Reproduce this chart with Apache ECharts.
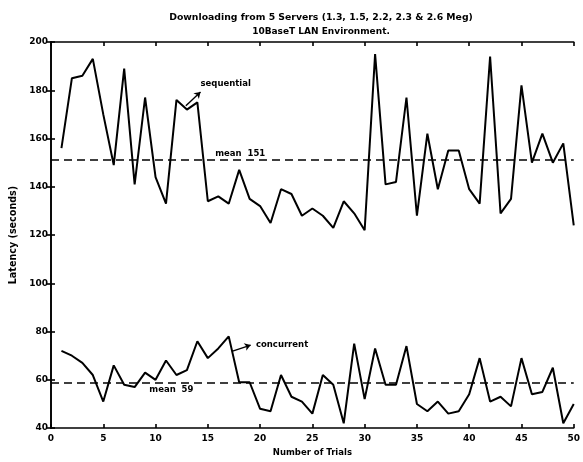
<!DOCTYPE html>
<html>
<head>
<meta charset="utf-8">
<script src="https://cdn.jsdelivr.net/npm/echarts@6/dist/echarts.min.js"></script>
<style>
html,body{margin:0;padding:0;background:#fff;}
#chart{width:583px;height:462px;}
</style>
</head>
<body>
<div id="chart"></div>
<script>
const trials = [1,2,3,4,5,6,7,8,9,10,11,12,13,14,15,16,17,18,19,20,21,22,23,24,25,26,27,28,29,30,31,32,33,34,35,36,37,38,39,40,41,42,43,44,45,46,47,48,49,50];
const sequential = [156,185,186,193,170,149,189,141,177,144,133,176,172,175,134,136,133,147,135,132,125,139,137,128,131,128,123,134,129,122,195,141,142,177,128,162,139,155,155,139,133,194,129,135,182,150,162,150,158,124];
const concurrent = [72,70,67,62,51,66,58,57,63,60,68,62,64,76,69,73,78,59,59,48,47,62,53,51,46,62,58,42,75,52,73,58,58,74,50,47,51,46,47,54,69,51,53,49,69,54,55,65,42,50];
const seqMean = 151;
const conMean = 59;
const xTicks = [0,5,10,15,20,25,30,35,40,45,50];
const yTicks = [40,60,80,100,120,140,160,180,200];

const chart = echarts.init(document.getElementById('chart'));
const font = '"DejaVu Sans", sans-serif';
const axisCommon = {
  type: 'value',
  axisLine: {show: true, lineStyle: {color: '#000', width: 1.6}},
  axisTick: {show: true, inside: true, length: 4, lineStyle: {color: '#000', width: 1.6}},
  splitLine: {show: false}
};
const tickLbl = {color: '#000', fontSize: 9, fontWeight: 'bold', fontFamily: font};
const annLbl = {color: '#000', fontSize: 8.5, fontWeight: 'bold', fontFamily: font};
chart.setOption({
  animation: false,
  backgroundColor: '#fff',
  title: {
    text: 'Downloading from 5 Servers (1.3, 1.5, 2.2, 2.3 & 2.6 Meg)',
    subtext: '10BaseT LAN Environment.',
    left: 316, top: 8, textAlign: 'center', itemGap: 5,
    textStyle: {color: '#000', fontSize: 9.3, fontWeight: 'bold', fontFamily: font},
    subtextStyle: {color: '#000', fontSize: 9, fontWeight: 'bold', fontFamily: font}
  },
  grid: {left: 50, right: 2, top: 42, bottom: 29, containLabel: false},
  xAxis: [
    Object.assign({}, axisCommon, {position: 'bottom', min: 0, max: 50, interval: 5,
      name: 'Number of Trials', nameLocation: 'middle', nameGap: 19,
      nameTextStyle: annLbl,
      axisLabel: Object.assign({margin: 6, formatter: v => xTicks.includes(v) ? String(v) : ''}, tickLbl)}),
    Object.assign({}, axisCommon, {position: 'top', min: 0, max: 50, interval: 5, axisLabel: {show: false}})
  ],
  yAxis: [
    Object.assign({}, axisCommon, {position: 'left', min: 40, max: 200, interval: 20,
      name: 'Latency (seconds)', nameLocation: 'middle', nameGap: 33,
      nameTextStyle: {color: '#000', fontSize: 9.6, fontWeight: 'bold', fontFamily: font},
      axisLabel: Object.assign({margin: 3, formatter: v => yTicks.includes(v) ? String(v) : ''}, tickLbl)}),
    Object.assign({}, axisCommon, {position: 'right', min: 40, max: 200, interval: 20, axisLabel: {show: false}})
  ],
  series: [
    {
      name: 'sequential', type: 'line', symbol: 'none',
      data: trials.map((t, i) => [t, sequential[i]]),
      lineStyle: {color: '#000', width: 2},
      markLine: {
        silent: true, symbol: 'none',
        lineStyle: {color: '#000', width: 1.6, type: [8, 5]},
        label: {show: false},
        data: [{yAxis: seqMean}]
      },
      markPoint: {
        symbol: 'circle', symbolSize: 0,
        label: Object.assign({show: true, position: 'right', distance: 0}, annLbl),
        data: [
          {coord: [14.3, 182.5], label: {formatter: 'sequential'}},
          {coord: [15.7, 153.5], label: {formatter: 'mean  ' + seqMean}}
        ]
      }
    },
    {
      name: 'concurrent', type: 'line', symbol: 'none',
      data: trials.map((t, i) => [t, concurrent[i]]),
      lineStyle: {color: '#000', width: 2},
      markLine: {
        silent: true, symbol: 'none',
        lineStyle: {color: '#000', width: 1.6, type: [8, 5]},
        label: {show: false},
        data: [{yAxis: conMean}]
      },
      markPoint: {
        symbol: 'circle', symbolSize: 0,
        label: Object.assign({show: true, position: 'right', distance: 0}, annLbl),
        data: [
          {coord: [19.6, 74.5], label: {formatter: 'concurrent'}},
          {coord: [9.4, 55.8], label: {formatter: 'mean  ' + conMean}}
        ]
      }
    },
    {
      name: 'arrows', type: 'line', symbol: 'none', data: [],
      markLine: {
        silent: true, symbol: ['none', 'arrow'], symbolSize: 6,
        lineStyle: {color: '#000', width: 1.4, type: 'solid'},
        label: {show: false},
        data: [
          [{coord: [12.9, 173.6]}, {coord: [14.3, 179.3]}],
          [{coord: [17.3, 71.8]}, {coord: [19.1, 74.4]}]
        ]
      }
    }
  ]
});
</script>
</body>
</html>
